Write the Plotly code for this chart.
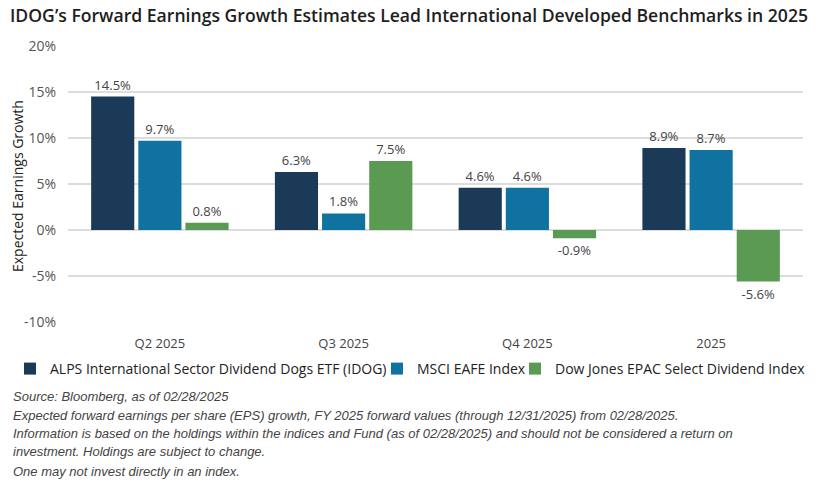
import plotly.graph_objects as go

categories = ["Q2 2025", "Q3 2025", "Q4 2025", "2025"]
series_names = [
    "ALPS International Sector Dividend Dogs ETF (IDOG)",
    "MSCI EAFE Index",
    "Dow Jones EPAC Select Dividend Index",
]
idog = [14.5, 6.3, 4.6, 8.9]
eafe = [9.7, 1.8, 4.6, 8.7]
epac = [0.8, 7.5, -0.9, -5.6]
colors = ["#1B3A57", "#0F72A0", "#5B9A52"]
y_ticks = [-10, -5, 0, 5, 10, 15, 20]
y_tick_labels = ["-10%", "-5%", "0%", "5%", "10%", "15%", "20%"]

title = "IDOG\u2019s Forward Earnings Growth Estimates Lead International Developed Benchmarks in 2025"
y_title = "Expected Earnings Growth"
notes = [
    "Source: Bloomberg, as of 02/28/2025",
    "Expected forward earnings per share (EPS) growth, FY 2025 forward values (through 12/31/2025) from 02/28/2025.",
    "Information is based on the holdings within the indices and Fund (as of 02/28/2025) and should not be considered a return on",
    "investment. Holdings are subject to change.",
    "One may not invest directly in an index.",
]

# The page body has a default 8px margin; lay out in window pixels and compensate.
OFF = 8
WIN_W, WIN_H = 819, 483
W, H = WIN_W - OFF, WIN_H - OFF
plot_left, plot_right, plot_top, plot_bottom = 68, 803, 46, 322  # window pixels
L = plot_left - OFF
R = WIN_W - plot_right
T = plot_top - OFF
B = WIN_H - plot_bottom
PW = W - L - R
PH = H - T - B

def cx(px):  # window x -> container fraction
    return max(0.0, (px - OFF) / W)

def cy(py):  # window y -> container fraction
    return min(1.0, 1 - (py - OFF) / H)

def px_paper_x(px):
    return (px - plot_left) / PW

def px_paper_y(py):
    return (plot_bottom - py) / PH

font_main = "Open Sans, Lato, sans-serif"

fig = go.Figure()
legend_ids = ["legend", "legend2", "legend3"]
for name, vals, col, lg in zip(series_names, [idog, eafe, epac], colors, legend_ids):
    fig.add_trace(go.Bar(
        x=categories, y=vals, name=name, legend=lg,
        marker=dict(color=col, line=dict(width=0)),
        text=[f"{v:.1f}%" for v in vals],
        textposition="outside",
        textfont=dict(size=13, color="#444444", family=font_main),
        cliponaxis=False,
    ))

legend_text_x = [50, 417, 555]
legend_common = dict(orientation="h", xref="container", yref="container",
                     xanchor="left", y=cy(369), yanchor="middle",
                     font=dict(size=14, color="#222222", family=font_main),
                     itemclick=False, itemdoubleclick=False, bgcolor="rgba(0,0,0,0)")
legends = {}
for lg, tx in zip(legend_ids, legend_text_x):
    legends[lg] = dict(legend_common, x=cx(tx - 40))

fig.update_layout(
    width=W, height=H,
    margin=dict(l=L, r=R, t=T, b=B),
    paper_bgcolor="white", plot_bgcolor="white",
    barmode="group", bargap=0.23, bargroupgap=0.085,
    font=dict(family=font_main, color="#444444"),
    title=dict(text=title, x=cx(10), xanchor="left", xref="container",
               y=cy(16), yanchor="middle", yref="container",
               font=dict(size=17.6, color="#1E1E1E", family=font_main, weight=600)),
    showlegend=True,
    yaxis=dict(range=[-10, 20], tickvals=y_ticks, ticktext=y_tick_labels,
               showgrid=True, gridcolor="#DDDDDD", gridwidth=2,
               zeroline=True, zerolinecolor="#DDDDDD", zerolinewidth=2,
               tickfont=dict(size=14, color="#555555"), ticks="", ticklabelstandoff=11,
               automargin=False),
    xaxis=dict(showgrid=False, showline=False, ticks="", automargin=False,
               ticklabelstandoff=12,
               tickfont=dict(size=13, color="#444444")),
    **legends,
)

fig.add_annotation(text=y_title, xref="paper", yref="paper",
                   x=px_paper_x(17), y=px_paper_y(186), xanchor="center", yanchor="middle",
                   textangle=-90, showarrow=False, borderpad=0,
                   font=dict(size=14, color="#222222", family=font_main))

note_y = [396, 415, 433, 452, 471]
for line, ypix in zip(notes, note_y):
    fig.add_annotation(text=line, xref="paper", yref="paper",
                       x=px_paper_x(11), xanchor="left",
                       y=px_paper_y(ypix), yanchor="middle",
                       showarrow=False, align="left",
                       font=dict(size=13, color="#444444",
                                 family="Liberation Sans, Arial, sans-serif", style="italic"))

fig.write_html("out.html")
